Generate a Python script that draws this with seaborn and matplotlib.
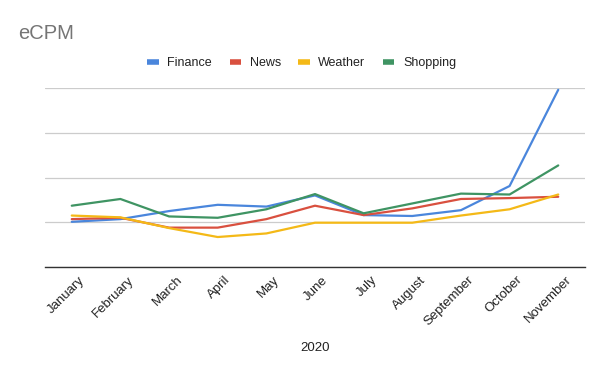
import seaborn as sns
import matplotlib.pyplot as plt
import matplotlib.transforms as mtransforms
import pandas as pd

months = ["January", "February", "March", "April", "May", "June",
          "July", "August", "September", "October", "November"]
finance = [1.01, 1.07, 1.25, 1.39, 1.35, 1.60, 1.16, 1.14, 1.27, 1.81, 3.96]
news = [1.07, 1.10, 0.88, 0.88, 1.07, 1.37, 1.16, 1.31, 1.52, 1.54, 1.57]
weather = [1.15, 1.11, 0.87, 0.67, 0.75, 0.99, 0.99, 0.99, 1.15, 1.29, 1.62]
shopping = [1.37, 1.52, 1.13, 1.10, 1.29, 1.63, 1.20, 1.42, 1.64, 1.62, 2.27]

series = {"Finance": finance, "News": news, "Weather": weather, "Shopping": shopping}
df = pd.concat(
    [pd.DataFrame({"month": months, "ecpm": v, "category": k}) for k, v in series.items()],
    ignore_index=True,
)

my_pal = {"Finance": "#4a86dc", "News": "#d9503f", "Weather": "#f4b917", "Shopping": "#3f9463"}

sns.set_style("white")
plt.rcParams["font.family"] = ["Liberation Sans", "DejaVu Sans"]

fig = plt.figure(figsize=(6, 3.71), dpi=100)
ax = fig.add_axes([0.075, 0.2803, 0.90, 0.4825])

sns.lineplot(data=df, x="month", y="ecpm", hue="category", palette=my_pal,
             sort=False, linewidth=1.6, ax=ax, legend=True)

ax.set_xlim(-0.55, len(months) - 0.45)
ax.set_ylim(0, 4)
ax.set_yticks([0, 1, 2, 3, 4])
ax.set_yticklabels([])
ax.tick_params(axis="y", length=0)
ax.tick_params(axis="x", length=0, pad=5, labelsize=9.5, colors="#222222")
ax.yaxis.grid(True, color="#cccccc", linewidth=0.9)
ax.set_axisbelow(True)
for s in ["top", "right", "left"]:
    ax.spines[s].set_visible(False)
ax.spines["bottom"].set_color("#333333")
ax.spines["bottom"].set_linewidth(1.0)

# nudge the rotated month labels to the right, like the original
shift = mtransforms.ScaledTranslation(0.07, 0, fig.dpi_scale_trans)
for lab in ax.get_xticklabels():
    lab.set_rotation(45)
    lab.set_ha("right")
    lab.set_va("top")
    lab.set_rotation_mode("anchor")
    lab.set_transform(lab.get_transform() + shift)

ax.set_xlabel("2020", fontsize=9.5, color="#222222", labelpad=10)
ax.set_ylabel("")

handles, labels = ax.get_legend_handles_labels()
ax.legend_.remove()
leg = fig.legend(handles, labels, loc="center", bbox_to_anchor=(0.503, 0.83), ncol=4,
                 frameon=False, fontsize=9, handlelength=0.9, handletextpad=0.7,
                 columnspacing=1.4)
for line in leg.get_lines():
    line.set_linewidth(4)
    line.set_solid_capstyle("butt")
for t in leg.get_texts():
    t.set_color("#222222")

fig.text(0.03, 0.91, "eCPM", fontsize=14.5, color="#757575", va="center", ha="left")

fig.savefig("out.png", dpi=100)
